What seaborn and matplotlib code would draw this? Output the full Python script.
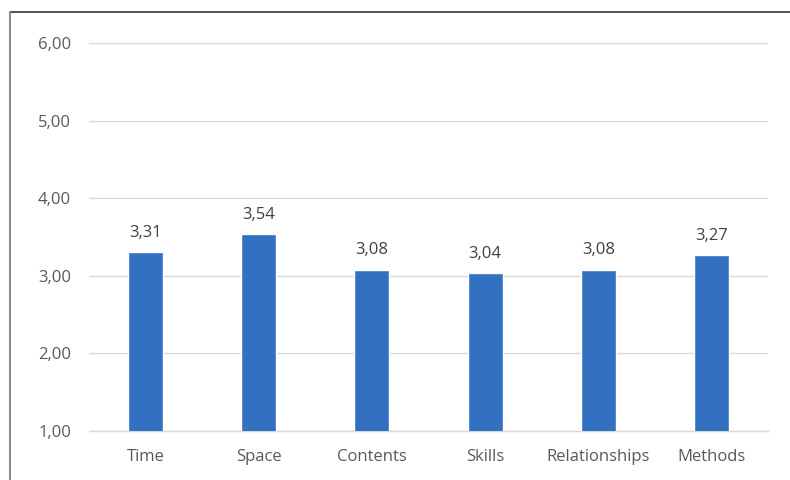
import matplotlib
matplotlib.use("Agg")
import matplotlib.pyplot as plt
from matplotlib.lines import Line2D
import seaborn as sns
import pandas as pd

categories = ["Time", "Space", "Contents", "Skills", "Relationships", "Methods"]
values = [3.31, 3.54, 3.08, 3.04, 3.08, 3.27]
y_ticks = [1, 2, 3, 4, 5, 6]

sns.set_theme(style="white")
plt.rcParams["font.family"] = ["Open Sans", "DejaVu Sans"]

df = pd.DataFrame({"category": categories, "value": values})

fig = plt.figure(figsize=(7.9, 4.8), dpi=100)
ax = fig.add_axes([89 / 790, 1 - 431 / 480, (768 - 89) / 790, (431 - 43) / 480])

sns.barplot(data=df, x="category", y="value", color="#3270C2", width=0.31,
            saturation=1, ax=ax, zorder=3)

ax.set_ylim(1, 6)
ax.set_yticks(y_ticks)
ax.set_yticklabels([f"{t:.2f}".replace(".", ",") for t in y_ticks])
ax.set_xlabel("")
ax.set_ylabel("")
ax.grid(axis="y", color="#d9d9d9", linewidth=1, zorder=0)
for s in ["top", "right", "left"]:
    ax.spines[s].set_visible(False)
ax.spines["bottom"].set_color("#d9d9d9")
ax.spines["bottom"].set_linewidth(1)
ax.tick_params(axis="both", length=0, labelsize=12, colors="#595959")
ax.tick_params(axis="y", pad=13)
ax.tick_params(axis="x", pad=13)

ax.bar_label(ax.containers[0], labels=[f"{v:.2f}".replace(".", ",") for v in values],
             padding=8, fontsize=12, color="#404040")

# outer frame: top and left edges
fig.add_artist(Line2D([10 / 790, 1], [1 - 12 / 480] * 2, transform=fig.transFigure,
                      color="#333333", linewidth=1.2))
fig.add_artist(Line2D([10 / 790] * 2, [0, 1 - 12 / 480], transform=fig.transFigure,
                      color="#8a8a8a", linewidth=1.5))

fig.savefig("out.png", dpi=100)
